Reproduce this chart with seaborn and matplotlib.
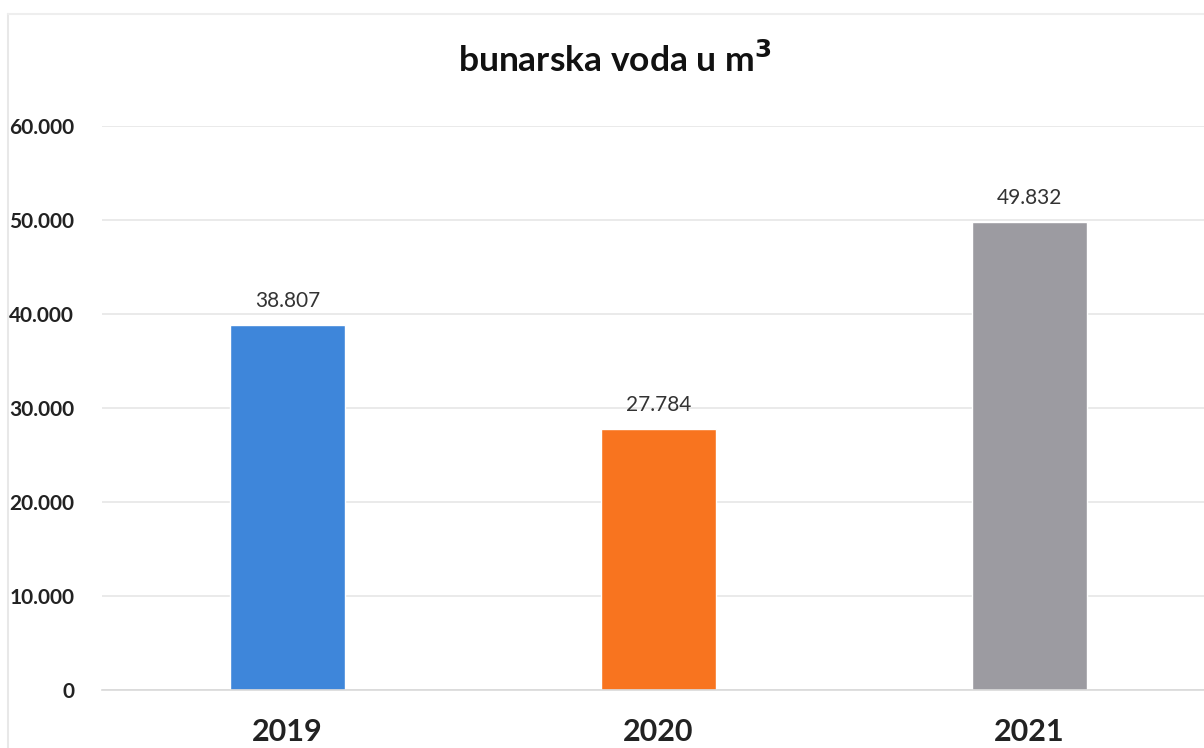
import matplotlib
matplotlib.use("Agg")
import matplotlib.pyplot as plt
import seaborn as sns
import pandas as pd
from matplotlib.ticker import FuncFormatter

years = ["2019", "2020", "2021"]
values = [38807, 27784, 49832]
colors = ["#3E86DA", "#F8741F", "#9C9BA1"]
yticks = [0, 10000, 20000, 30000, 40000, 50000, 60000]

sns.set_theme(style="white")
plt.rcParams['font.family'] = ['Lato', 'DejaVu Sans']

df = pd.DataFrame({"year": years, "value": values})

fig = plt.figure(figsize=(12.04, 7.48), dpi=100)
ax = fig.add_axes([102/1204, 58/748, 1113/1204, 564/748])
sns.barplot(data=df, x="year", y="value", hue="year", palette=colors,
            width=0.31, legend=False, ax=ax, saturation=1)

ax.set_ylim(0, 60000)
ax.set_xlim(-0.5, 2.5)
ax.set_yticks(yticks)
ax.yaxis.set_major_formatter(FuncFormatter(lambda v, p: f"{int(v):,}".replace(",", ".")))
ax.grid(axis="y", color="#E6E6E6", linewidth=1.2)
ax.set_axisbelow(True)
for s in ["left", "right", "top"]:
    ax.spines[s].set_visible(False)
ax.spines["bottom"].set_color("#D9D9D9")
ax.spines["bottom"].set_linewidth(1.2)
ax.set_xlabel("")
ax.set_ylabel("")
ax.tick_params(axis="y", length=0, pad=20, labelsize=15)
ax.tick_params(axis="x", length=0, pad=20, labelsize=22)
for lab in ax.get_yticklabels():
    lab.set_fontweight("bold")
    lab.set_color("#222222")
for lab in ax.get_xticklabels():
    lab.set_fontweight("bold")
    lab.set_color("#222222")

for i, v in enumerate(values):
    ax.annotate(f"{v:,}".replace(",", "."), (i, v), xytext=(0, 10),
                textcoords="offset points", ha="center", va="bottom",
                fontsize=15, color="#333333")

fig.text(615/1204, 1 - 60/748, r"bunarska voda u m$^{\mathbf{3}}$", ha="center", va="center",
         fontsize=25.5, fontweight="bold", color="#111111")

# faint chart border
fig.add_artist(plt.Line2D([8/1204, 8/1204], [0, 1 - 14/748], color="#E8E8E8", lw=1.5))
fig.add_artist(plt.Line2D([8/1204, 1], [1 - 14/748, 1 - 14/748], color="#EEEEEE", lw=1.5))

fig.savefig("out.png", dpi=100)
